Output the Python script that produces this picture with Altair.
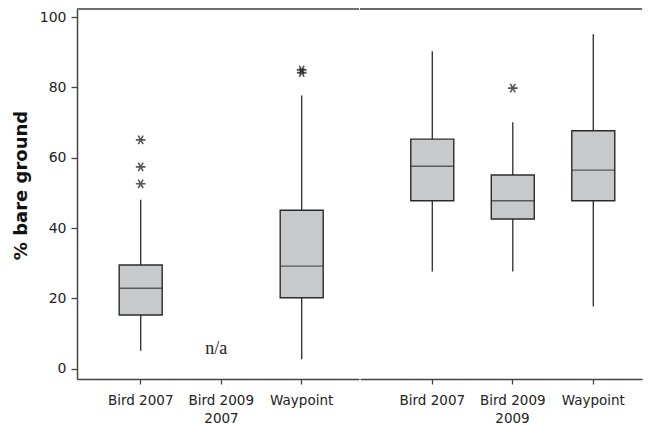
import altair as alt
import pandas as pd

# ---- data ----
groups = ["Bird 2007", "Bird 2009", "Waypoint"]

box_year = ["2007", "2007", "2009", "2009", "2009"]
box_group = ["Bird 2007", "Waypoint", "Bird 2007", "Bird 2009", "Waypoint"]
whisker_low = [5.1, 2.7, 27.7, 27.7, 17.7]
quartile1 = [15.3, 20.2, 47.8, 42.6, 47.8]
median = [22.9, 29.2, 57.6, 47.8, 56.5]
quartile3 = [29.5, 45.1, 65.3, 55.1, 67.7]
whisker_high = [48.1, 77.7, 90.3, 70.1, 95.1]

outlier_year = ["2007", "2007", "2007", "2007", "2007", "2009"]
outlier_group = ["Bird 2007", "Bird 2007", "Bird 2007", "Waypoint", "Waypoint", "Bird 2009"]
outlier_value = [52.6, 57.4, 65.1, 84.2, 85.0, 79.8]

na_year = ["2007"]
na_group = ["Bird 2009"]
na_value = [5.5]
na_text = ["n/a"]

y_ticks = [0, 20, 40, 60, 80, 100]

boxes = pd.DataFrame({
    "year": box_year, "group": box_group, "lo": whisker_low,
    "q1": quartile1, "med": median, "q3": quartile3, "hi": whisker_high,
})
outliers = pd.DataFrame({"year": outlier_year, "group": outlier_group, "value": outlier_value})
na_df = pd.DataFrame({"year": na_year, "group": na_group, "value": na_value, "label": na_text})

FONT = "DejaVu Sans"
DARK = "#2b2b2b"
AXIS = "#444444"
PW, PH = 282, 370
ydom = [-2.9, 102.3]
asterisk = "M-1,0H1M-0.5,-0.866L0.5,0.866M-0.5,0.866L0.5,-0.866"


def panel(year, align, show_y, title_x):
    xscale = alt.Scale(domain=groups, paddingInner=0, paddingOuter=0.2516, align=align)
    xaxis = alt.Axis(
        title=year, titleX=title_x, titleFontWeight="normal", titleFont=FONT,
        titleFontSize=13.5, titleColor="#222", titlePadding=5,
        labelAngle=0, labelFont=FONT, labelFontSize=13.5, labelColor="#222",
        labelPadding=9, tickSize=5, tickColor=AXIS, tickWidth=1.3,
        domainColor=AXIS, domainWidth=1.5, grid=False,
    )
    if show_y:
        yax = alt.Axis(
            values=y_ticks, title="% bare ground", titleFont=FONT, titleFontSize=18,
            titleFontWeight="bold", titleColor="#111", titlePadding=9, titleY=176,
            labelFont=FONT, labelFontSize=14, labelColor="#222", labelPadding=5,
            tickSize=6, tickColor=AXIS, tickWidth=1.3, domainColor=AXIS,
            domainWidth=1.5, grid=False,
        )
    else:
        yax = None
    yscale = alt.Scale(domain=ydom, nice=False, zero=False)

    def X():
        return alt.X("group:N", scale=xscale, axis=xaxis)

    def Y(field):
        return alt.Y(field, scale=yscale, axis=yax)

    b = boxes[boxes["year"] == year]
    o = outliers[outliers["year"] == year]
    n = na_df[na_df["year"] == year]

    whisk = alt.Chart(b).mark_rule(color=DARK, strokeWidth=1.3).encode(
        x=X(), y=Y("lo:Q"), y2="hi:Q")
    box = alt.Chart(b).mark_bar(size=43, fill="#c8c9cb", stroke=DARK, strokeWidth=1.4).encode(
        x=X(), y=Y("q1:Q"), y2="q3:Q")
    med = alt.Chart(b).mark_tick(size=43, thickness=1.4, color=DARK, orient="horizontal").encode(
        x=X(), y=Y("med:Q"))
    pts = alt.Chart(o).mark_point(shape=asterisk, size=95, filled=False, stroke="#111",
                                  strokeWidth=1.6).encode(
        x=X(), y=Y("value:Q"))
    top = alt.Chart(b).mark_rule(color="#666666", strokeWidth=1.6).encode(
        x=alt.value(0), x2=alt.value(PW), y=alt.value(0))
    layers = [whisk, box, med, pts, top]
    if len(n):
        txt = alt.Chart(n).mark_text(font="Liberation Serif", fontSize=18, color="#222",
                                     dx=-5, baseline="middle").encode(
            x=X(), y=Y("value:Q"), text="label:N")
        layers.append(txt)
    return alt.layer(*layers).properties(width=PW, height=PH)


left = panel("2007", 0.579, True, 144)
right = panel("2009", 0.791, False, 152)

chart = alt.hconcat(left, right, spacing=-2).properties(
    padding={"left": 4, "top": 0, "right": 0, "bottom": 0},
    background="white",
).configure_view(strokeWidth=0, stroke="transparent")

chart.save("out.html", embed_options={"renderer": "svg", "actions": False})
